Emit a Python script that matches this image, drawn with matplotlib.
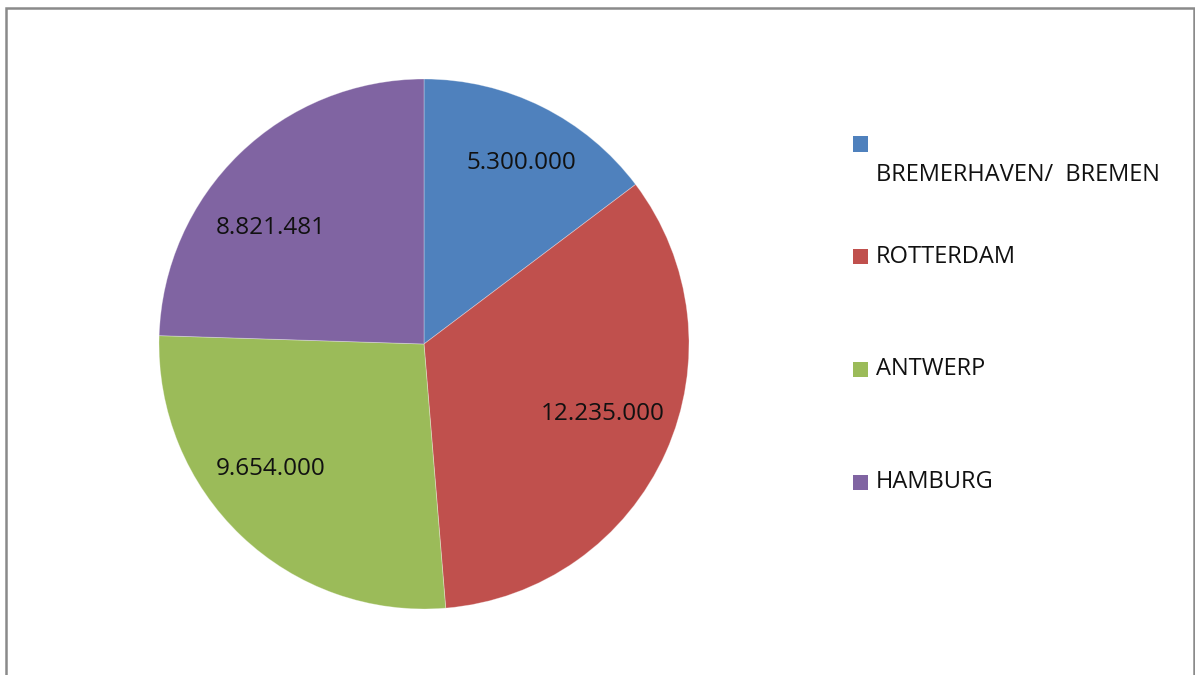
import matplotlib
matplotlib.use("Agg")
import matplotlib.pyplot as plt
from matplotlib.patches import Rectangle
from matplotlib.transforms import offset_copy

# Container throughput per port
ports = ["\nBREMERHAVEN/  BREMEN", "ROTTERDAM", "ANTWERP", "HAMBURG"]
volumes = [5300000, 12235000, 9654000, 8821481]
colors = ["#4F81BD", "#C0504D", "#9BBB59", "#8064A2"]

plt.rcParams["font.family"] = ["Open Sans", "DejaVu Sans"]

W, H = 1195, 675
fig = plt.figure(figsize=(W / 100, H / 100), dpi=100)
fig.patch.set_facecolor("white")


def fx(px):
    return px / W


def fy(py):
    return 1 - py / H


# Chart-area frame (runs off the bottom edge)
frame = Rectangle((fx(6), fy(700)), fx(1194) - fx(6), fy(8) - fy(700),
                  transform=fig.transFigure, fill=False,
                  edgecolor="#8a8a8a", linewidth=1.8, clip_on=False)
fig.patches.append(frame)

# Pie axes: centre (424, 344) px, radius 265 px
cx, cy, r = 424, 344, 265
ax = fig.add_axes([fx(cx - r), fy(cy + r), 2 * r / W, 2 * r / H])


def fmt(v):
    return f"{v:,}".replace(",", ".")


FS = 17.5
wedges, texts = ax.pie(
    volumes,
    colors=colors,
    labels=[fmt(v) for v in volumes],
    labeldistance=0.74,
    startangle=90,
    counterclock=False,
    radius=1,
    wedgeprops=dict(edgecolor=(1, 1, 1, 0.35), linewidth=0.6),
    textprops=dict(fontsize=FS, color="#111111"),
)
# best-fit style nudges for the value labels (points: right, up)
label_nudge = [(7, 4), (0, 7), (-13, 12), (-12, -18)]
for t, (dx, dy) in zip(texts, label_nudge):
    t.set_ha("center")
    t.set_va("center")
    t.set_transform(offset_copy(t.get_transform(), fig=fig, x=dx, y=dy,
                                units="points"))
ax.set_xlim(-1, 1)
ax.set_ylim(-1, 1)
ax.axis("off")

# Legend drawn row by row
row0, row_gap = 144, 112.7
line_gap = 31
sq = 15
for i, (name, col) in enumerate(zip(ports, colors)):
    y = row0 + i * row_gap
    fig.patches.append(Rectangle((fx(853), fy(y + sq / 2)), sq / W, sq / H,
                                 transform=fig.transFigure,
                                 facecolor=col, edgecolor="none"))
    for j, line in enumerate(name.split("\n")):
        if line:
            fig.text(fx(876), fy(y + j * line_gap), line, fontsize=17,
                     color="#111111", ha="left", va="center")

fig.savefig("out.png", dpi=100, facecolor="white")
